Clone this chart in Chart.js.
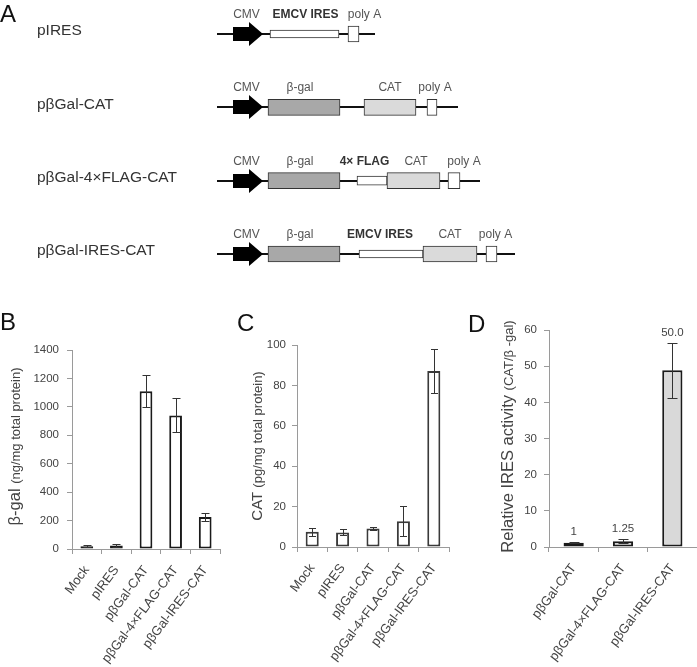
<!DOCTYPE html>
<html><head><meta charset="utf-8">
<script src="https://cdn.jsdelivr.net/npm/chart.js@4.4.0/dist/chart.umd.min.js"></script>
<style>
body{margin:0;width:697px;height:667px;background:#fff;position:relative;overflow:hidden;font-family:Arial,"Liberation Sans",sans-serif}
canvas{position:absolute;display:block}
.lt{position:absolute;font-size:24px;line-height:24px;color:#111}
</style></head><body>
<canvas id="cA" width="697" height="290" style="left:0;top:0"></canvas>
<canvas id="cB" width="230" height="367" style="left:0;top:300px"></canvas>
<canvas id="cC" width="235" height="367" style="left:225px;top:300px"></canvas>
<canvas id="cD" width="237" height="367" style="left:460px;top:300px"></canvas>
<div class="lt" style="left:0;top:2px">A</div>
<div class="lt" style="left:0;top:310px">B</div>
<div class="lt" style="left:237px;top:311px">C</div>
<div class="lt" style="left:468px;top:312px">D</div>
<script>
// ---------- Panel A: construct maps (diagram units) ----------
const constructNames = ['pIRES', 'pβGal-CAT', 'pβGal-4×FLAG-CAT', 'pβGal-IRES-CAT'];
const backboneLength = [158, 241, 263, 298];
const cmvPromoter = [[16, 46], [16, 46], [16, 46], [16, 46]];
const betaGalGene = [null, [51, 123], [51, 123], [51, 123]];
const emcvIres = [[53, 122], null, null, [142, 206]];
const flagTag = [null, null, [140, 170], null];
const catGene = [null, [147, 199], [170, 223], [206, 260]];
const polyASignal = [[131, 142], [210, 220], [231, 243], [269, 280]];

// ---------- Panel B: beta-gal ----------
const samplesBC = ['Mock', 'pIRES', 'pβGal-CAT', 'pβGal-4×FLAG-CAT', 'pβGal-IRES-CAT'];
const betaGalValues = [20, 25, 1110, 940, 225];
const betaGalErrors = [5, 8, 112, 120, 28];

// ---------- Panel C: CAT ----------
const catValues = [7.5, 7.2, 9.2, 12.8, 87.1];
const catErrors = [2, 1.5, 0.7, 7.3, 11];

// ---------- Panel D: relative IRES activity ----------
const samplesD = ['pβGal-CAT', 'pβGal-4×FLAG-CAT', 'pβGal-IRES-CAT'];
const iresActivity = [1.2, 1.6, 48.9];
const iresErrors = [0.2, 0.5, 7.6];
const iresLabels = ['1', '1.25', '50.0'];

Chart.defaults.font.family = "Arial, 'Liberation Sans', sans-serif";

// ---------- diagram plugin ----------
const labelShift = { cmv: [-1.5, -1.5, -1.5, -1.5], beta: [0, -4, -4, -4], ires: [1, 0, 0, -11], flag: [0, 0, -7.5, 0], cat: [0, 0, 2.5, 0], polyA: [11, 3, 10, 4] };
const diagramPlugin = {
  id: 'diagram',
  beforeDatasetsDraw(chart) {
    const ctx = chart.ctx, xs = chart.scales.x, ys = chart.scales.y;
    ctx.save();
    ctx.strokeStyle = '#111'; ctx.lineWidth = 2;
    constructNames.forEach((n, i) => {
      const y = Math.round(ys.getPixelForValue(i));
      ctx.beginPath(); ctx.moveTo(xs.getPixelForValue(0), y); ctx.lineTo(xs.getPixelForValue(backboneLength[i]), y); ctx.stroke();
    });
    ctx.restore();
  },
  afterDatasetsDraw(chart) {
    const ctx = chart.ctx, xs = chart.scales.x, ys = chart.scales.y;
    ctx.save();
    constructNames.forEach((n, i) => {
      const y = Math.round(ys.getPixelForValue(i));
      const a = cmvPromoter[i];
      const x0 = xs.getPixelForValue(a[0]), x1 = xs.getPixelForValue(a[1]);
      ctx.fillStyle = '#000';
      ctx.beginPath();
      ctx.moveTo(x0, y - 7); ctx.lineTo(x1 - 14, y - 7); ctx.lineTo(x1 - 14, y - 12); ctx.lineTo(x1, y);
      ctx.lineTo(x1 - 14, y + 12); ctx.lineTo(x1 - 14, y + 7); ctx.lineTo(x0, y + 7); ctx.closePath(); ctx.fill();
      const ly = y - 19.5;
      ctx.textAlign = 'center'; ctx.textBaseline = 'middle';
      const put = (seg, txt, key, bold) => {
        if (!seg) return;
        const cx = (xs.getPixelForValue(seg[0]) + xs.getPixelForValue(seg[1])) / 2 + labelShift[key][i];
        ctx.font = (bold ? 'bold ' : '') + "12px Arial, 'Liberation Sans', sans-serif";
        ctx.fillStyle = bold ? '#333' : '#555';
        ctx.fillText(txt, cx, ly);
      };
      put(a, 'CMV', 'cmv');
      put(betaGalGene[i], 'β-gal', 'beta');
      put(emcvIres[i], 'EMCV IRES', 'ires', true);
      put(flagTag[i], '4× FLAG', 'flag', true);
      put(catGene[i], 'CAT', 'cat');
      put(polyASignal[i], 'poly A', 'polyA');
    });
    ctx.restore();
  }
};

const segStyle = { borderColor: '#333', borderWidth: 1, borderSkipped: false, grouped: false, clip: false };
new Chart(document.getElementById('cA'), {
  type: 'bar',
  data: {
    labels: constructNames,
    datasets: [
      Object.assign({ data: betaGalGene, backgroundColor: '#a8a8a8', barThickness: 16 }, segStyle),
      Object.assign({ data: catGene, backgroundColor: '#dadada', barThickness: 16 }, segStyle),
      Object.assign({ data: emcvIres, backgroundColor: '#ffffff', barThickness: 8 }, segStyle),
      Object.assign({ data: flagTag, backgroundColor: '#ffffff', barThickness: 9 }, segStyle),
      Object.assign({ data: polyASignal, backgroundColor: '#ffffff', barThickness: 16 }, segStyle)
    ]
  },
  options: {
    indexAxis: 'y', responsive: false, animation: false, events: [],
    layout: { padding: { left: 37, top: 34, bottom: 36, right: 0 } },
    plugins: { legend: { display: false }, tooltip: { enabled: false } },
    scales: {
      x: { type: 'linear', min: 0, max: 480, display: false },
      y: {
        type: 'category', offset: false, grid: { display: false }, border: { display: false },
        ticks: { crossAlign: 'far', color: '#333', font: { size: 15.5 }, padding: 0, autoSkip: false, labelOffset: -3 },
        afterFit(s) { s.width = 180; }
      }
    }
  },
  plugins: [diagramPlugin]
});

// ---------- bar chart plugins ----------
const errorBarPlugin = {
  id: 'errorBars',
  afterDatasetsDraw(chart, args, opts) {
    const ctx = chart.ctx, ys = chart.scales.y, meta = chart.getDatasetMeta(0);
    const vals = chart.data.datasets[0].data;
    ctx.save(); ctx.strokeStyle = '#333'; ctx.lineWidth = 1;
    meta.data.forEach((el, i) => {
      const e = opts.errors[i], v = vals[i];
      const x = Math.round(el.x) + 0.5;
      const yt = Math.round(ys.getPixelForValue(v + e)) + 0.5, yb = Math.round(ys.getPixelForValue(v - e)) + 0.5;
      const h = opts.cap / 2;
      ctx.beginPath();
      ctx.moveTo(x, yt); ctx.lineTo(x, yb);
      ctx.moveTo(x - h, yt); ctx.lineTo(x + h, yt);
      ctx.moveTo(x - h, yb); ctx.lineTo(x + h, yb);
      ctx.stroke();
    });
    ctx.restore();
  }
};
const titlePlugin = {
  id: 'vtitle',
  afterDraw(chart, args, opts) {
    const ctx = chart.ctx, ca = chart.chartArea;
    ctx.save();
    ctx.translate(opts.x, (ca.top + ca.bottom) / 2 + (opts.dy || 0));
    ctx.rotate(-Math.PI / 2);
    ctx.fillStyle = '#444'; ctx.textBaseline = 'alphabetic'; ctx.textAlign = 'left';
    const fam = "Arial, 'Liberation Sans', sans-serif";
    let total = 0;
    const ws = opts.parts.map(p => { ctx.font = p.size + 'px ' + fam; const w = ctx.measureText(p.text).width; total += w; return w; });
    let cx = -total / 2;
    opts.parts.forEach((p, i) => { ctx.font = p.size + 'px ' + fam; ctx.fillText(p.text, cx, 0); cx += ws[i]; });
    ctx.restore();
  }
};
const valueLabelPlugin = {
  id: 'valueLabels',
  afterDatasetsDraw(chart, args, opts) {
    if (!opts.labels) return;
    const ctx = chart.ctx, ys = chart.scales.y, meta = chart.getDatasetMeta(0);
    const vals = chart.data.datasets[0].data;
    ctx.save(); ctx.fillStyle = '#444'; ctx.textAlign = 'center'; ctx.textBaseline = 'alphabetic';
    ctx.font = "11.5px Arial, 'Liberation Sans', sans-serif";
    meta.data.forEach((el, i) => {
      ctx.fillText(opts.labels[i], el.x, ys.getPixelForValue(vals[i] + opts.errors[i]) - 7);
    });
    ctx.restore();
  }
};

function barChart(id, labels, values, errors, o) {
  return new Chart(document.getElementById(id), {
    type: 'bar',
    data: { labels: labels, datasets: [{ data: values, backgroundColor: o.fill, borderColor: o.stroke, borderWidth: 2, borderSkipped: false, barPercentage: o.bp, categoryPercentage: 1 }] },
    options: {
      responsive: false, animation: false, events: [],
      layout: { padding: { top: o.top, right: o.right, left: 0, bottom: 0 } },
      plugins: {
        legend: { display: false }, tooltip: { enabled: false },
        errorBars: { errors: errors, cap: o.cap },
        vtitle: o.title,
        valueLabels: { labels: o.valueLabels, errors: errors }
      },
      scales: {
        x: {
          offset: true,
          grid: { display: true, drawOnChartArea: false, tickLength: 5, color: '#9a9a9a', offset: true },
          border: { color: '#9a9a9a' },
          ticks: { autoSkip: false, maxRotation: 53, minRotation: 53, color: '#444', font: { size: 13 }, padding: 9 },
          afterFit(s) { s.height = o.xh; }
        },
        y: {
          min: 0, max: o.max,
          ticks: { stepSize: o.step, color: '#444', font: { size: 11.5 }, padding: o.tp, callback: v => String(v) },
          grid: { drawOnChartArea: false, tickLength: 5, color: '#9a9a9a' },
          border: { color: '#9a9a9a' },
          afterFit(s) { s.width = o.yw; }
        }
      }
    },
    plugins: [errorBarPlugin, titlePlugin, valueLabelPlugin]
  });
}

barChart('cB', samplesBC, betaGalValues, betaGalErrors, {
  fill: '#ffffff', stroke: '#1a1a1a', bp: 0.43, top: 50, right: 10, xh: 118, yw: 72, max: 1400, step: 200, tp: 8, cap: 8,
  title: { x: 19.5, dy: -3, parts: [{ text: 'β-gal ', size: 16.5 }, { text: '(ng/mg total protein)', size: 13 }] }
});
barChart('cC', samplesBC, catValues, catErrors, {
  fill: '#ffffff', stroke: '#3a3a3a', bp: 0.43, top: 45, right: 11, xh: 120, yw: 72, max: 100, step: 20, tp: 6, cap: 7,
  title: { x: 37, dy: 0, parts: [{ text: 'CAT ', size: 15 }, { text: '(pg/mg total protein)', size: 13 }] }
});
barChart('cD', samplesD, iresActivity, iresErrors, {
  fill: '#d9d9d9', stroke: '#1a1a1a', bp: 0.41, top: 30, right: 0, xh: 120, yw: 89, max: 60, step: 10, tp: 7, cap: 10,
  valueLabels: iresLabels,
  title: { x: 53, dy: -2, parts: [{ text: 'Relative IRES activity ', size: 16.5 }, { text: '(CAT/β -gal)', size: 13 }] }
});
</script>
</body></html>
